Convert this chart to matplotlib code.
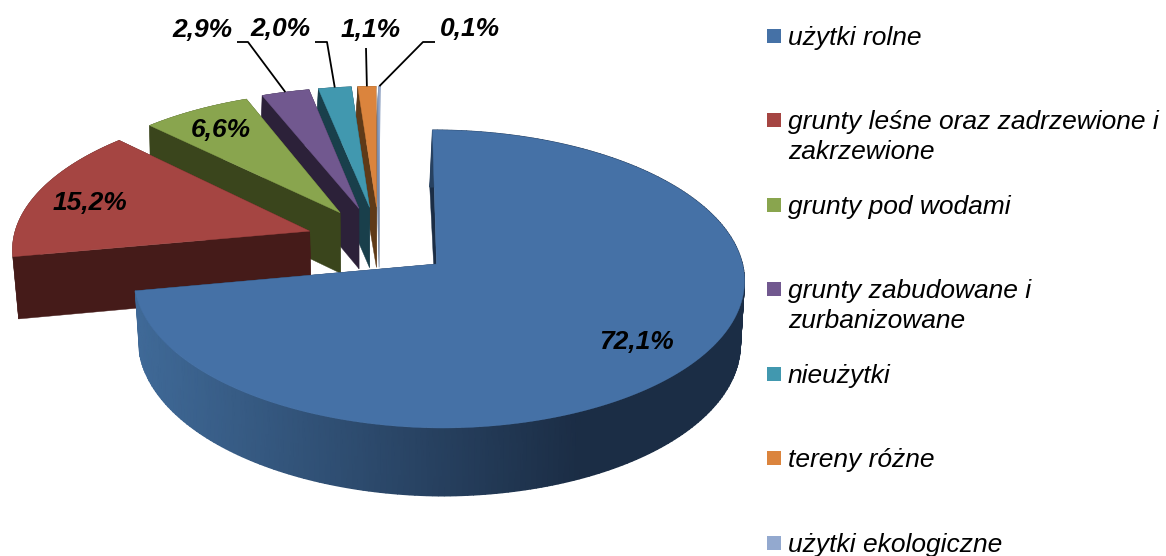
#Land use structure shown as an exploded 3D pie, drawn by hand on a pixel sized axes

import numpy as np
import matplotlib
matplotlib.use('Agg')
import matplotlib.pyplot as plt
from matplotlib.colors import LinearSegmentedColormap
from matplotlib.patches import Rectangle

names = ['użytki rolne', 'grunty leśne oraz zadrzewione i\nzakrzewione', 'grunty pod wodami',
         'grunty zabudowane i\nzurbanizowane', 'nieużytki', 'tereny różne', 'użytki ekologiczne']
values = [72.1, 15.2, 6.6, 2.9, 2.0, 1.1, 0.1]
labels = ['72,1%', '15,2%', '6,6%', '2,9%', '2,0%', '1,1%', '0,1%']

top_colors = ['#4571a6', '#a54542', '#89a54e', '#71588f', '#4198af', '#db843d', '#93a9cf']
wall_colors = ['#1b2d45', '#451b19', '#3a451c', '#2c2139', '#193f4b', '#5f3a18', '#7a8aa5']

# label centres in pixels, None means the leader stays out
label_pos = [(637, 342), (90, 203), (221, 130), (202, 30), (280, 29), (371, 30), (470, 29)]
leaders = [None, None, None, [(237, 42), (248, 42)], [(315, 42), (327, 42)], [(366, 48)], [(435, 42), (423, 42)]]
legend_y = [36, 120, 205, 289, 374, 458, 543]
# small lean of each slice to the left, grows towards the back of the chart
shears = [4.0, 1.5, 1.5, 3.5, 4.0, 4.0, 4.0]

# projection of the pie
cx, cy = 436.5, 264.0
R, H, p = 306.0, 147.5, 0.1007
explode = 0.245


def project(u, v, z=0.0, shear=1.5):
    u = np.asarray(u, dtype=float)
    v = np.asarray(v, dtype=float)
    w = 1 + p * v
    x = cx + R * u / w - shear * v
    y = cy - H * v / w
    # z=1 is the lower rim of the wall
    x = x + z * (0.0136 * (452 - x) - 3.0 * np.clip(v, 0, None))
    y = y + z * (62.5 - 5.5 * v)
    return x, y


def unit(deg):
    r = np.radians(deg)
    return np.sin(r), np.cos(r)


fig = plt.figure(figsize=(11.66, 5.56), dpi=100)
ax = fig.add_axes([0, 0, 1, 1])
ax.set_xlim(0, 1166)
ax.set_ylim(556, 0)
ax.axis('off')

edges = np.cumsum([0] + values) * 3.6
mids = (edges[:-1] + edges[1:]) / 2
shift_u = -explode * unit(mids[0])[0]
shift_v = -explode * unit(mids[0])[1]
blue_wall = LinearSegmentedColormap.from_list('blue_wall', ['#1b2d45', '#3f6997'])

# back slices first so the front ones cover them
for i in range(len(values) - 1, -1, -1):
    du, dv = unit(mids[i])
    ou = explode * du + shift_u
    ov = explode * dv + shift_v
    ang = np.linspace(edges[i], edges[i + 1], max(int(values[i] * 3.6), 2) + 1)
    su, sv = unit(ang)
    sh = shears[i]
    if i == 0:
        # the left side of the big slice is a little tighter than the right
        f = 1 + 0.015 * np.clip(su, -1, 0)
    else:
        f = 0.985
    fv = 0.985 if i >= 2 else 1.0
    rim_u = ou + su * f
    rim_v = ov + sv * f * fv

    # straight walls
    for k in (0, -1):
        xs = [project(ou, ov, 0, sh)[0], project(rim_u[k], rim_v[k], 0, sh)[0],
              project(rim_u[k], rim_v[k], 1, sh)[0], project(ou, ov, 1, sh)[0]]
        ys = [project(ou, ov, 0, sh)[1], project(rim_u[k], rim_v[k], 0, sh)[1],
              project(rim_u[k], rim_v[k], 1, sh)[1], project(ou, ov, 1, sh)[1]]
        ax.fill(xs, ys, color=wall_colors[i], lw=0.3)

    # outer wall
    x0, y0 = project(rim_u, rim_v, 0, sh)
    x1, y1 = project(rim_u, rim_v, 1, sh)
    if i == 0:
        # blue wall gets lighter to the left
        X = np.vstack([x0, x1])
        Y = np.vstack([y0, y1])
        C = np.clip((580 - X) / 440, 0, 1)
        ax.pcolormesh(X, Y, C, cmap=blue_wall, vmin=0, vmax=1, shading='gouraud')
    else:
        ax.fill(np.r_[x0, x1[::-1]], np.r_[y0, y1[::-1]], color=wall_colors[i], lw=0.3)

    # top face
    ax_, ay_ = project(ou, ov, 0, sh)
    ax.fill(np.r_[ax_, x0], np.r_[ay_, y0], color=top_colors[i], lw=0.3)

    # leader line ends on the outer arc of the slice
    if leaders[i] is not None:
        ex, ey = project(ou + du * f, ov + dv * f * fv, 0, sh)
        pts = leaders[i] + [(float(ex), float(ey))]
        ax.plot([q[0] for q in pts], [q[1] for q in pts], color='black', lw=1.3, solid_capstyle='butt', zorder=5)

for i in range(len(values)):
    ax.text(label_pos[i][0], label_pos[i][1], labels[i], ha='center', va='center', family='Liberation Sans',
            fontsize=19, fontweight='bold', fontstyle='italic', color='black', zorder=6)

# legend
for i in range(len(names)):
    ax.add_patch(Rectangle((767, legend_y[i] - 7), 14, 14, facecolor=top_colors[i], edgecolor='none'))
    for n, line in enumerate(names[i].split('\n')):
        ax.text(788, legend_y[i] + 9 + n * 30, line, ha='left', va='baseline', family='Liberation Sans',
                fontsize=19, fontstyle='italic', color='black')

ax.set_xlim(0, 1166)
ax.set_ylim(556, 0)
fig.savefig('out.png', dpi=100, facecolor='white')
